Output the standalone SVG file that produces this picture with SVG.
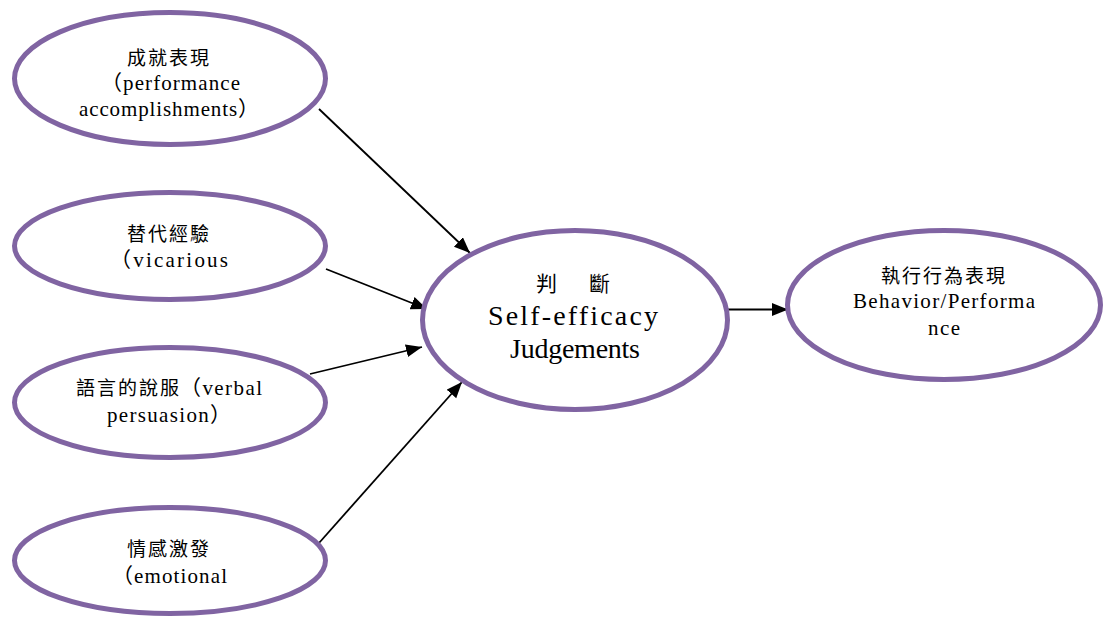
<svg xmlns="http://www.w3.org/2000/svg" width="1106" height="618" viewBox="0 0 1106 618">
  <defs>
    <marker id="arrow" markerUnits="userSpaceOnUse" markerWidth="17" markerHeight="14" refX="16" refY="6.5" orient="auto">
      <path d="M0,0 L16,6.5 L0,13 z" fill="#000"/>
    </marker>
    <style>
      .node ellipse { fill: #fff; stroke: #8064A2; stroke-width: 5; }
      .cjk { font-family: "Noto Sans CJK TC", "Noto Sans CJK SC", sans-serif; font-size: 19px; letter-spacing: 2px; fill: #000; }
      .cjk-lg { font-family: "Noto Sans CJK TC", "Noto Sans CJK SC", sans-serif; font-size: 21px; fill: #000; }
      .lat { font-family: "Liberation Serif", "Noto Sans CJK TC", serif; font-size: 21px; fill: #000; }
      .lat-lg { font-family: "Liberation Serif", "Noto Sans CJK TC", serif; font-size: 28px; fill: #000; }
      .edge { stroke: #000; stroke-width: 1.8; fill: none; marker-end: url(#arrow); }
    </style>
  </defs>

  <rect width="1106" height="618" fill="#fff"/>

  <!-- connectors -->
  <g id="connectors">
    <line class="edge" x1="319" y1="109" x2="470" y2="253"/>
    <line class="edge" x1="326" y1="269" x2="427" y2="309"/>
    <line class="edge" x1="310" y1="374" x2="422" y2="347"/>
    <line class="edge" x1="319" y1="543" x2="462" y2="382"/>
    <line class="edge" x1="727" y1="309.5" x2="788" y2="309.5"/>
  </g>

  <!-- source nodes -->
  <g id="performance" class="node">
    <ellipse cx="170" cy="78.5" rx="155.5" ry="66"/>
    <text class="cjk" x="127" y="64.5">成就表現</text>
    <text class="lat" x="101" y="90" textLength="139" lengthAdjust="spacing">（performance</text>
    <text class="lat" x="79" y="116" textLength="180" lengthAdjust="spacing">accomplishments）</text>
  </g>

  <g id="vicarious" class="node">
    <ellipse cx="170" cy="246" rx="155.5" ry="53.5"/>
    <text class="cjk" x="127" y="241">替代經驗</text>
    <text class="lat" x="110" y="267" textLength="118" lengthAdjust="spacing">（vicarious</text>
  </g>

  <g id="persuasion" class="node">
    <ellipse cx="170" cy="402.5" rx="155.5" ry="55"/>
    <text class="cjk" x="76" y="395">語言的說服</text>
    <text class="lat" x="180" y="395" textLength="82" lengthAdjust="spacing">（verbal</text>
    <text class="lat" x="107" y="422" textLength="124" lengthAdjust="spacing">persuasion）</text>
  </g>

  <g id="emotional" class="node">
    <ellipse cx="170" cy="560.5" rx="155.5" ry="53"/>
    <text class="cjk" x="127" y="556">情感激發</text>
    <text class="lat" x="112" y="583" textLength="115" lengthAdjust="spacing">（emotional</text>
  </g>

  <!-- central node -->
  <g id="judgements" class="node">
    <ellipse cx="575" cy="320" rx="152.5" ry="89.5"/>
    <text class="cjk-lg" x="536" y="291">判</text>
    <text class="cjk-lg" x="589" y="291">斷</text>
    <text class="lat-lg" x="488" y="325" textLength="170" lengthAdjust="spacing">Self-efficacy</text>
    <text class="lat-lg" x="510" y="358" textLength="130" lengthAdjust="spacing">Judgements</text>
  </g>

  <!-- outcome node -->
  <g id="behavior" class="node">
    <ellipse cx="944" cy="305" rx="156.5" ry="74.5"/>
    <text class="cjk" x="881" y="282.5">執行行為表現</text>
    <text class="lat" x="853" y="308" textLength="182" lengthAdjust="spacing">Behavior/Performa</text>
    <text class="lat" x="928" y="335" textLength="32" lengthAdjust="spacing">nce</text>
  </g>
</svg>
